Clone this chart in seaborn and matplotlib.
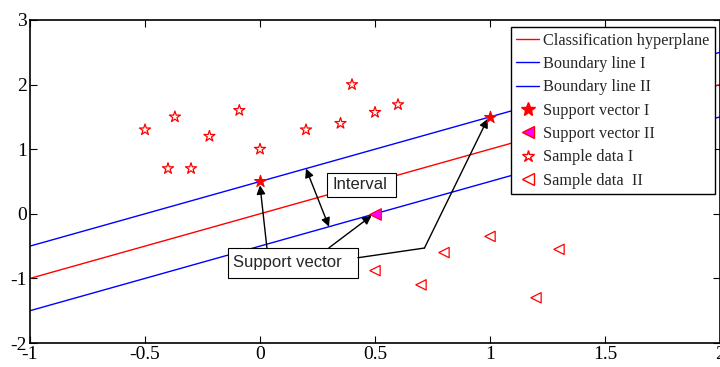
import matplotlib
matplotlib.use("Agg")
import matplotlib.pyplot as plt
import seaborn as sns
import pandas as pd
from matplotlib.lines import Line2D
from matplotlib.patches import Rectangle

# ---- data ----
line_x = [-1, 2]
hyperplane_y = [-1, 2]
boundary1_y = [-0.5, 2.5]
boundary2_y = [-1.5, 1.5]

sv1_x = [0, 1]
sv1_y = [0.5, 1.5]
sv2_x = [0.5]
sv2_y = [0.0]

sample1_x = [-0.5, -0.37, -0.4, -0.3, -0.22, -0.09, 0.0, 0.2, 0.35, 0.4, 0.5, 0.6]
sample1_y = [1.3, 1.5, 0.7, 0.7, 1.2, 1.6, 1.0, 1.3, 1.4, 2.0, 1.57, 1.69]
sample2_x = [1.0, 0.8, 1.3, 0.5, 0.7, 1.2]
sample2_y = [-0.35, -0.6, -0.55, -0.88, -1.1, -1.3]

xticks = [-1, -0.5, 0, 0.5, 1, 1.5, 2]
xtick_labels = ["-1", "-0.5", "0", "0.5", "1", "1.5", "2"]
yticks = [-2, -1, 0, 1, 2, 3]
ytick_labels = ["-2", "-1", "0", "1", "2", "3"]

labels = ["Classification hyperplane", "Boundary line I", "Boundary line II",
          "Support vector I", "Support vector II", "Sample data I", "Sample data  II"]

sns.set_theme(style="white")
plt.rcParams['font.family'] = ['Liberation Serif', 'DejaVu Serif']

fig = plt.figure(figsize=(7.2, 3.67), dpi=100)
ax = fig.add_axes([30/720, 24/367, 690/720, 323/367])

lines_df = pd.DataFrame({"x": line_x * 3,
                         "y": hyperplane_y + boundary1_y + boundary2_y,
                         "k": ["h"] * 2 + ["b1"] * 2 + ["b2"] * 2})
sns.lineplot(data=lines_df[lines_df.k == "h"], x="x", y="y", color="red", lw=1, ax=ax)
sns.lineplot(data=lines_df[lines_df.k == "b1"], x="x", y="y", color="blue", lw=1, ax=ax)
sns.lineplot(data=lines_df[lines_df.k == "b2"], x="x", y="y", color="blue", lw=1, ax=ax)

sns.scatterplot(x=sample1_x, y=sample1_y, marker="*", s=70, facecolors="none",
                edgecolor="red", linewidth=0.9, ax=ax, zorder=3)
sns.scatterplot(x=sample2_x, y=sample2_y, marker="<", s=55, facecolors="none",
                edgecolor="red", linewidth=0.9, ax=ax, zorder=3)
sns.scatterplot(x=sv1_x, y=sv1_y, marker="*", s=80, color="red",
                edgecolor="red", linewidth=0.8, ax=ax, zorder=4)
sns.scatterplot(x=sv2_x, y=sv2_y, marker="<", s=70, color="magenta",
                edgecolor="red", linewidth=0.8, ax=ax, zorder=4)

ax.set_xlim(-1, 2)
ax.set_ylim(-2, 3)
ax.set_xlabel("")
ax.set_ylabel("")
ax.set_xticks(xticks)
ax.set_xticklabels(xtick_labels)
ax.set_yticks(yticks)
ax.set_yticklabels(ytick_labels)
ax.tick_params(direction="in", length=5, width=0.8, labelsize=14, colors="black",
               top=True, right=True, bottom=True, left=True, pad=2)
for s in ax.spines.values():
    s.set_color("black")
    s.set_linewidth(1.2)

# annotations
sans = ['Liberation Sans', 'DejaVu Sans']
ax.add_patch(Rectangle((0.291, 0.263), 0.30, 0.372, fc="white", ec="black", lw=0.8, zorder=5))
ax.text(0.317, 0.45, "Interval", fontsize=12, family=sans, va="center", ha="left", zorder=6)
ax.annotate("", xy=(0.2, 0.7), xytext=(0.3, -0.2),
            arrowprops=dict(arrowstyle="<|-|>", color="black", lw=1, mutation_scale=13,
                            shrinkA=0, shrinkB=0))
ax.add_patch(Rectangle((-0.139, -0.99), 0.565, 0.464, fc="white", ec="black", lw=0.8, zorder=5))
ax.text(-0.117, -0.76, "Support vector", fontsize=12, family=sans,
        va="center", ha="left", zorder=6)
ax.annotate("", xy=(0.0, 0.44), xytext=(0.03, -0.526),
            arrowprops=dict(arrowstyle="-|>", color="black", lw=1, mutation_scale=13,
                            shrinkA=0, shrinkB=0))
ax.annotate("", xy=(0.485, -0.03), xytext=(0.3, -0.526),
            arrowprops=dict(arrowstyle="-|>", color="black", lw=1, mutation_scale=13,
                            shrinkA=0, shrinkB=0))
ax.plot([0.426, 0.715], [-0.68, -0.53], color="black", lw=1, zorder=6)
ax.annotate("", xy=(0.99, 1.47), xytext=(0.715, -0.53),
            arrowprops=dict(arrowstyle="-|>", color="black", lw=1, mutation_scale=13,
                            shrinkA=0, shrinkB=0))

handles = [
    Line2D([], [], color="red", lw=1),
    Line2D([], [], color="blue", lw=1),
    Line2D([], [], color="blue", lw=1),
    Line2D([], [], color="red", marker="*", ls="none", markersize=10),
    Line2D([], [], color="red", marker="<", markerfacecolor="magenta", ls="none", markersize=9),
    Line2D([], [], color="red", marker="*", markerfacecolor="none", ls="none", markersize=9),
    Line2D([], [], color="red", marker="<", markerfacecolor="none", ls="none", markersize=8),
]
leg = ax.legend(handles, labels, loc="upper right", bbox_to_anchor=(0.993, 0.978),
                borderaxespad=0, fontsize=11.7, frameon=True, fancybox=False,
                edgecolor="black", framealpha=1, handlelength=1.4, handletextpad=0.25,
                labelspacing=0.45, borderpad=0.35)
leg.get_frame().set_linewidth(1)

fig.savefig("out.png", dpi=100)
